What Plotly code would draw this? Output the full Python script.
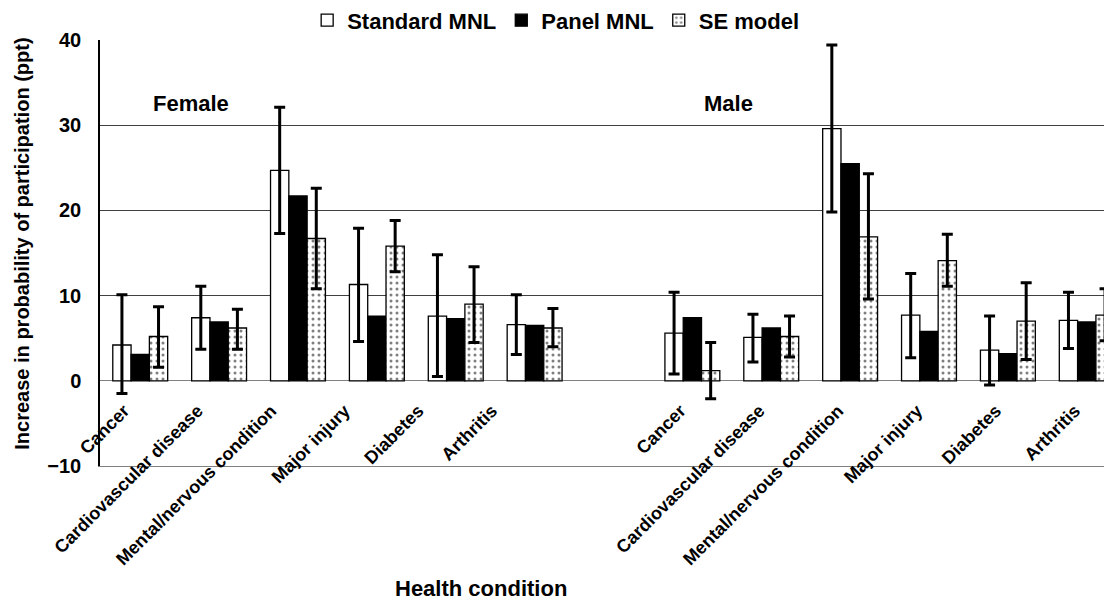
import plotly.graph_objects as go

categories = ["Cancer", "Cardiovascular disease", "Mental/nervous condition",
              "Major injury", "Diabetes", "Arthritis"]
series_names = ["Standard MNL", "Panel MNL", "SE model"]

female_std = [4.2, 7.4, 24.7, 11.3, 7.6, 6.6]
female_std_lo = [-1.5, 3.7, 17.3, 4.6, 0.5, 3.1]
female_std_hi = [10.1, 11.1, 32.1, 17.9, 14.8, 10.1]
female_panel = [3.1, 6.9, 21.7, 7.6, 7.3, 6.5]
female_se = [5.2, 6.2, 16.7, 15.8, 9.0, 6.2]
female_se_lo = [1.6, 3.7, 10.8, 12.8, 4.5, 4.0]
female_se_hi = [8.7, 8.4, 22.6, 18.8, 13.4, 8.5]

male_std = [5.6, 5.1, 29.6, 7.7, 3.6, 7.1]
male_std_lo = [0.8, 2.2, 19.8, 2.7, -0.5, 3.8]
male_std_hi = [10.4, 7.8, 39.4, 12.6, 7.6, 10.4]
male_panel = [7.4, 6.2, 25.5, 5.8, 3.2, 6.9]
male_se = [1.2, 5.2, 16.9, 14.1, 7.0, 7.7]
male_se_lo = [-2.1, 2.8, 9.6, 11.1, 2.5, 4.7]
male_se_hi = [4.5, 7.6, 24.3, 17.2, 11.5, 10.8]

group_labels = ["Female", "Male"]
y_ticks = [-10, 0, 10, 20, 30, 40]

FONT = "Arial, 'Liberation Sans', sans-serif"

# --- layout/style constants (label placement, not data) ---
F_LABEL_START, F_LABEL_PITCH = -0.205, 0.933
M_LABEL_SHIFT = -0.15

n = len(categories)
gap = 1
x_pos = list(range(n)) + [n + gap + i for i in range(n)]
label_pos = [F_LABEL_START + F_LABEL_PITCH * i for i in range(n)] + \
            [n + gap + i + M_LABEL_SHIFT for i in range(n)]
tick_text = categories + categories

std = female_std + male_std
std_lo = female_std_lo + male_std_lo
std_hi = female_std_hi + male_std_hi
panel = female_panel + male_panel
se = female_se + male_se
se_lo = female_se_lo + male_se_lo
se_hi = female_se_hi + male_se_hi

err_style = dict(type="data", symmetric=False, color="black", thickness=3, width=5.5)

fig = go.Figure()
fig.add_trace(go.Bar(
    name=series_names[0], x=x_pos, y=std,
    marker=dict(color="white", line=dict(color="black", width=1.3)),
    error_y=dict(array=[h - v for h, v in zip(std_hi, std)],
                 arrayminus=[v - l for l, v in zip(std_lo, std)], **err_style),
))
fig.add_trace(go.Bar(
    name=series_names[1], x=x_pos, y=panel,
    marker=dict(color="black", line=dict(color="black", width=1.3)),
))
fig.add_trace(go.Bar(
    name=series_names[2], x=x_pos, y=se,
    marker=dict(color="white", line=dict(color="black", width=1.3),
                pattern=dict(shape=".", fgcolor="black", bgcolor="white",
                             size=6, solidity=0.2)),
    error_y=dict(array=[h - v for h, v in zip(se_hi, se)],
                 arrayminus=[v - l for l, v in zip(se_lo, se)], **err_style),
))

# invisible trace to host the category labels axis (drawn at y = 0)
fig.add_trace(go.Scatter(x=[x_pos[0]], y=[0], xaxis="x2", mode="markers",
                         marker=dict(opacity=0), showlegend=False, hoverinfo="skip"))

XR = [-0.51, 12.32]
fig.update_layout(
    width=1112, height=602,
    margin=dict(l=92, r=8, t=32, b=144, autoexpand=False),
    paper_bgcolor="white", plot_bgcolor="white",
    barmode="group", bargap=0.304, bargroupgap=0,
    font=dict(family=FONT, color="black"),
    showlegend=True,
    legend=dict(orientation="h", x=0.4925, xanchor="center", xref="container",
                y=1.046, yanchor="middle", yref="paper",
                font=dict(family=FONT, size=22, weight="bold", color="black"),
                itemclick=False, traceorder="normal"),
    xaxis=dict(range=XR, showticklabels=False, ticks="",
               showgrid=False, zeroline=False, automargin=False,
               showline=True, linecolor="#808080", linewidth=1, mirror=False),
    xaxis2=dict(overlaying="x", anchor="free", position=0.2, range=XR,
                tickmode="array", tickvals=label_pos, ticktext=tick_text, automargin=False,
                tickangle=-45, ticks="", showgrid=False, zeroline=False, showline=False,
                tickfont=dict(family=FONT, size=18, weight="bold", color="black"),
                ticklabelstandoff=15),
    yaxis=dict(range=[-10, 40], tickvals=y_ticks, ticks="", automargin=False,
               showgrid=True, gridcolor="#404040", gridwidth=1,
               zeroline=True, zerolinecolor="#808080", zerolinewidth=1,
               showline=True, linecolor="black", linewidth=1.5,
               tickfont=dict(family=FONT, size=20, weight="bold", color="black"),
               ticklabelstandoff=13),
    annotations=[
        dict(text="Increase in probability of participation (ppt)", textangle=-90,
             x=-0.0766, y=0.523, xref="paper", yref="paper",
             xanchor="center", yanchor="middle", showarrow=False,
             font=dict(family=FONT, size=20, weight="bold", color="black")),
        dict(text=group_labels[0], x=0.64, y=32.6, xref="x", yref="y",
             showarrow=False, font=dict(family=FONT, size=22, weight="bold", color="black")),
        dict(text=group_labels[1], x=7.46, y=32.6, xref="x", yref="y",
             showarrow=False, font=dict(family=FONT, size=22, weight="bold", color="black")),
        dict(text="Health condition", x=0.3765, y=-0.2887, xref="paper", yref="paper",
             xanchor="center", yanchor="middle", showarrow=False,
             font=dict(family=FONT, size=22, weight="bold", color="black")),
    ],
)

fig.write_html("out.html")
